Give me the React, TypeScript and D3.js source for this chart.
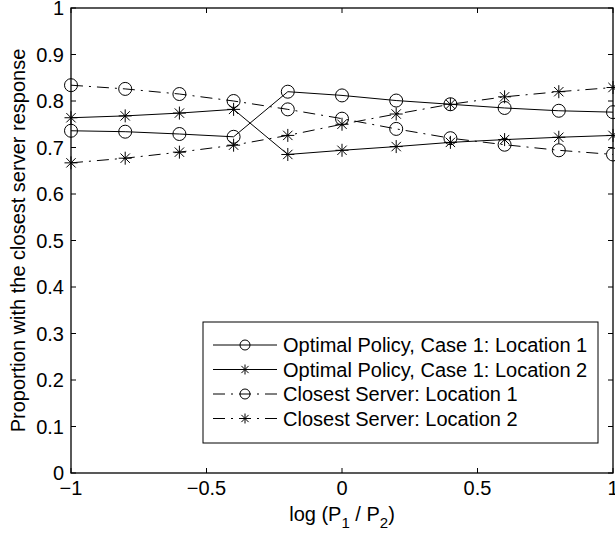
import React from "react";
import * as d3 from "d3";

const xValues = [-1, -0.8, -0.6, -0.4, -0.2, 0, 0.2, 0.4, 0.6, 0.8, 1];
const optLoc1 = [0.736, 0.734, 0.729, 0.723, 0.82, 0.812, 0.801, 0.793, 0.785, 0.779, 0.776];
const optLoc2 = [0.764, 0.768, 0.774, 0.782, 0.685, 0.694, 0.702, 0.711, 0.717, 0.722, 0.726];
const csLoc1 = [0.834, 0.826, 0.815, 0.8, 0.782, 0.762, 0.74, 0.72, 0.706, 0.694, 0.685];
const csLoc2 = [0.667, 0.677, 0.69, 0.705, 0.726, 0.75, 0.772, 0.793, 0.809, 0.82, 0.829];
const seriesNames = [
  "Optimal Policy, Case 1: Location 1",
  "Optimal Policy, Case 1: Location 2",
  "Closest Server: Location 1",
  "Closest Server: Location 2",
];
const xTicks = [-1, -0.5, 0, 0.5, 1];
const yTicks = [0, 0.1, 0.2, 0.3, 0.4, 0.5, 0.6, 0.7, 0.8, 0.9, 1];

const W = 615;
const H = 539;
const M = { left: 71, right: 613, top: 8, bottom: 473 };
const FONT = "'Liberation Sans', Arial, Helvetica, sans-serif";
const FS = 20;

const x = d3.scaleLinear().domain([-1, 1]).range([M.left, M.right]);
const y = d3.scaleLinear().domain([0, 1]).range([M.bottom, M.top]);

const DASHDOT = "12,6,2,6";
const series = [
  { name: seriesNames[0], values: optLoc1, marker: "circle", dash: null },
  { name: seriesNames[1], values: optLoc2, marker: "star", dash: null },
  { name: seriesNames[2], values: csLoc1, marker: "circle", dash: DASHDOT },
  { name: seriesNames[3], values: csLoc2, marker: "star", dash: DASHDOT },
];

function Marker({ type, cx, cy, r }: { type: string; cx: number; cy: number; r: number }) {
  if (type === "circle") {
    return <circle cx={cx} cy={cy} r={r} fill="none" stroke="#000" strokeWidth={1} />;
  }
  const d = r * 0.72;
  const path = `M${cx - r},${cy}H${cx + r}M${cx},${cy - r}V${cy + r}M${cx - d},${cy - d}L${cx + d},${cy + d}M${cx - d},${cy + d}L${cx + d},${cy - d}`;
  return <path d={path} stroke="#000" strokeWidth={1} fill="none" />;
}

function fmt(v: number) {
  const s = String(Math.round(v * 10) / 10);
  return s.replace("-", "\u2212");
}

export default function App() {
  const line = d3
    .line<number>()
    .x((_, i) => x(xValues[i]))
    .y((v) => y(v));

  const legX0 = 203;
  const legY0 = 322;
  const legW = 395;
  const legH = 121;
  const rowH = 24.5;
  const firstRow = 345;

  return (
    <svg width={W} height={H} style={{ display: "block", position: "absolute", left: 0, top: 0 }}>
      <rect x={0} y={0} width={W} height={H} fill="#fff" />
      {series.map((s, si) => (
        <g key={si}>
          <path d={line(s.values) || ""} fill="none" stroke="#000" strokeWidth={1} strokeDasharray={s.dash || undefined} />
          {s.values.map((v, i) => (
            <Marker key={i} type={s.marker} cx={x(xValues[i])} cy={y(v)} r={6.5} />
          ))}
        </g>
      ))}
      <rect x={M.left} y={M.top} width={M.right - M.left} height={M.bottom - M.top} fill="none" stroke="#000" strokeWidth={1.3} />
      {xTicks.map((t, i) => (
        <g key={"xt" + i}>
          <line x1={x(t)} x2={x(t)} y1={M.bottom} y2={M.bottom - 5} stroke="#000" />
          <line x1={x(t)} x2={x(t)} y1={M.top} y2={M.top + 5} stroke="#000" />
          <text x={x(t)} y={495} textAnchor="middle" fontFamily={FONT} fontSize={FS}>
            {fmt(t)}
          </text>
        </g>
      ))}
      {yTicks.map((t, i) => (
        <g key={"yt" + i}>
          <line x1={M.left} x2={M.left + 5} y1={y(t)} y2={y(t)} stroke="#000" />
          <line x1={M.right} x2={M.right - 5} y1={y(t)} y2={y(t)} stroke="#000" />
          <text x={64} y={y(t) + 7} textAnchor="end" fontFamily={FONT} fontSize={FS}>
            {fmt(t)}
          </text>
        </g>
      ))}
      <text x={342} y={521} textAnchor="middle" fontFamily={FONT} fontSize={FS}>
        log (P<tspan fontSize={15} dy={7}>1</tspan>
        <tspan dy={-7}> / P</tspan>
        <tspan fontSize={15} dy={7}>2</tspan>
        <tspan dy={-7}>)</tspan>
      </text>
      <text
        transform={`translate(25,${(M.top + M.bottom) / 2}) rotate(-90)`}
        textAnchor="middle"
        fontFamily={FONT}
        fontSize={FS}
      >
        Proportion with the closest server response
      </text>
      <rect x={legX0} y={legY0} width={legW} height={legH} fill="#fff" stroke="#000" strokeWidth={1} />
      {series.map((s, i) => {
        const cy = firstRow + i * rowH;
        return (
          <g key={"lg" + i}>
            <line x1={213} x2={277} y1={cy} y2={cy} stroke="#000" strokeDasharray={s.dash || undefined} />
            <Marker type={s.marker} cx={245} cy={cy} r={5} />
            <text x={283} y={cy + 7} fontFamily={FONT} fontSize={FS}>
              {s.name}
            </text>
          </g>
        );
      })}
    </svg>
  );
}
